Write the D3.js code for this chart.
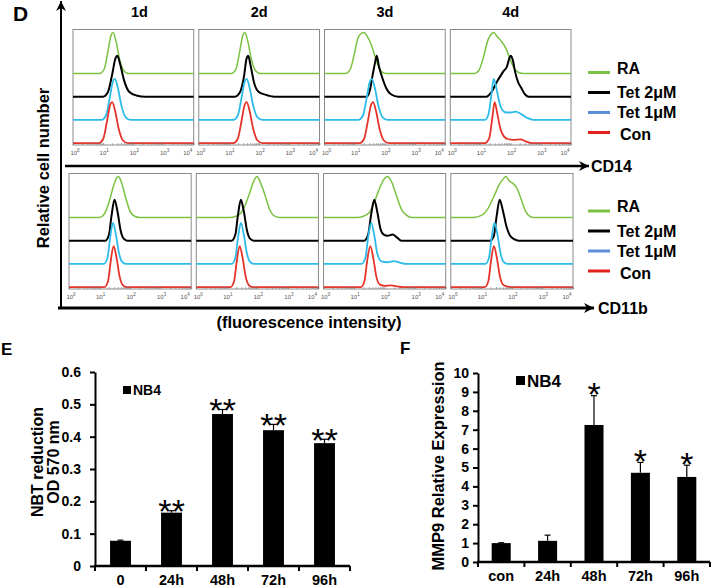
<!DOCTYPE html>
<html lang='en'>
<head>
<meta charset='UTF-8'>
<title>Flow cytometry, NBT and MMP9</title>
<script src='https://cdnjs.cloudflare.com/ajax/libs/d3/7.8.5/d3.min.js'></script>
<style>
  body { margin:0; background:#fff; }
  svg { display:block; font-family:'Liberation Sans', Arial, sans-serif; font-weight:bold; }
</style>
</head>
<body>
<svg id='fig' width='712' height='587'></svg>
<script>
// ---------- data ----------
const days = ['1d', '2d', '3d', '4d']
const treatments = ['RA', 'Tet 2μM', 'Tet 1μM', 'Con']
const markers = ['CD14', 'CD11b']
const decades = [0, 1, 2, 3, 4]

// histogram outlines: [log10 intensity, height / peak], one outline per day
const cd14RA = [
  [[0.88,0],[1.03,0.1],[1.16,0.55],[1.26,0.93],[1.33,1],[1.42,0.8],[1.55,0.33],[1.68,0.07],[1.85,0]],
  [[1.08,0],[1.23,0.1],[1.36,0.55],[1.46,0.93],[1.53,1],[1.62,0.8],[1.75,0.33],[1.88,0.07],[2.05,0]],
  [[0.7,0],[0.85,0.1],[0.98,0.45],[1.1,0.85],[1.22,0.98],[1.31,1],[1.42,0.9],[1.55,0.7],[1.68,0.4],[1.8,0.15],[1.92,0.03],[2.05,0]],
  [[0.8,0],[0.95,0.08],[1.1,0.4],[1.25,0.82],[1.38,0.98],[1.44,1],[1.55,0.9],[1.7,0.78],[1.85,0.6],[1.98,0.35],[2.1,0.15],[2.25,0.03],[2.4,0]]
]
const cd14T2 = [
  [[1.0,0],[1.15,0.1],[1.3,0.55],[1.4,0.92],[1.47,1],[1.56,0.8],[1.7,0.38],[1.86,0.12],[2.1,0.03],[2.4,0]],
  [[1.2,0],[1.36,0.1],[1.5,0.5],[1.58,0.92],[1.64,1],[1.72,0.75],[1.84,0.32],[1.98,0.12],[2.2,0.05],[2.5,0]],
  [[1.4,0],[1.5,0.15],[1.6,0.55],[1.68,0.85],[1.73,1],[1.8,0.75],[1.92,0.45],[2.05,0.2],[2.2,0.06],[2.45,0]],
  [[1.2,0],[1.35,0.1],[1.56,0.38],[1.7,0.55],[1.77,0.63],[1.87,0.72],[1.95,0.92],[2.0,1],[2.07,0.9],[2.15,0.6],[2.25,0.35],[2.35,0.22],[2.45,0.08],[2.6,0]]
]
const cd14T1 = [
  [[0.94,0],[1.09,0.1],[1.22,0.55],[1.32,0.93],[1.39,1],[1.48,0.8],[1.61,0.33],[1.74,0.07],[1.91,0]],
  [[1.14,0],[1.29,0.1],[1.42,0.55],[1.52,0.93],[1.59,1],[1.68,0.8],[1.81,0.33],[1.94,0.07],[2.11,0]],
  [[1.12,0],[1.27,0.1],[1.4,0.55],[1.5,0.93],[1.57,1],[1.66,0.8],[1.79,0.33],[1.92,0.07],[2.09,0]],
  [[1.15,0],[1.27,0.15],[1.36,0.6],[1.44,1],[1.52,0.8],[1.62,0.45],[1.72,0.25],[1.85,0.18],[2.0,0.18],[2.17,0.2],[2.35,0.14],[2.55,0.05],[2.75,0]]
]
const cd14Con = [
  [[0.85,0],[1.0,0.1],[1.13,0.55],[1.23,0.93],[1.3,1],[1.39,0.8],[1.52,0.33],[1.65,0.07],[1.82,0]],
  [[1.14,0],[1.29,0.1],[1.42,0.55],[1.52,0.93],[1.59,1],[1.68,0.8],[1.81,0.33],[1.94,0.07],[2.11,0]],
  [[1.16,0],[1.31,0.1],[1.44,0.55],[1.54,0.93],[1.61,1],[1.7,0.8],[1.83,0.33],[1.96,0.07],[2.13,0]],
  [[1.15,0],[1.29,0.12],[1.39,0.6],[1.47,1],[1.55,0.75],[1.66,0.35],[1.77,0.17],[1.9,0.1],[2.1,0.08],[2.33,0.09],[2.5,0.04],[2.7,0]]
]
const cd11bRA = [
  [[1.0,0],[1.15,0.08],[1.3,0.35],[1.45,0.75],[1.56,0.97],[1.62,1],[1.72,0.85],[1.85,0.5],[2.0,0.15],[2.15,0.03],[2.3,0]],
  [[1.1,0],[1.3,0.03],[1.45,0.1],[1.6,0.3],[1.75,0.6],[1.9,0.92],[1.99,1],[2.1,0.85],[2.25,0.55],[2.4,0.2],[2.55,0.04],[2.75,0]],
  [[1.1,0],[1.3,0.03],[1.5,0.12],[1.65,0.35],[1.8,0.65],[1.95,0.9],[2.1,1],[2.22,0.88],[2.38,0.55],[2.55,0.2],[2.72,0.05],[2.9,0]],
  [[0.75,0],[1.0,0.05],[1.2,0.2],[1.4,0.5],[1.6,0.82],[1.75,0.97],[1.81,1],[1.9,0.9],[2.05,0.82],[2.16,0.72],[2.3,0.45],[2.45,0.15],[2.6,0.02],[2.7,0]]
]
const cd11bT2 = [
  [[1.19,0],[1.31,0.15],[1.39,0.6],[1.49,1],[1.59,0.7],[1.69,0.25],[1.79,0.05],[1.91,0]],
  [[1.16,0],[1.28,0.15],[1.36,0.6],[1.46,1],[1.56,0.7],[1.66,0.25],[1.76,0.05],[1.88,0]],
  [[1.33,0],[1.46,0.15],[1.56,0.65],[1.66,1],[1.76,0.7],[1.86,0.3],[1.97,0.15],[2.1,0.12],[2.26,0.15],[2.4,0.08],[2.55,0]],
  [[1.28,0],[1.41,0.12],[1.5,0.6],[1.6,1],[1.7,0.75],[1.82,0.35],[1.94,0.12],[2.07,0.04],[2.22,0]]
]
const cd11bT1 = [
  [[1.14,0],[1.26,0.15],[1.34,0.6],[1.44,1],[1.54,0.7],[1.64,0.25],[1.74,0.05],[1.86,0]],
  [[1.16,0],[1.28,0.15],[1.36,0.6],[1.46,1],[1.56,0.7],[1.66,0.25],[1.76,0.05],[1.88,0]],
  [[1.24,0],[1.37,0.15],[1.46,0.65],[1.56,1],[1.66,0.7],[1.76,0.25],[1.9,0.06],[2.1,0.04],[2.3,0.07],[2.5,0.03],[2.7,0]],
  [[1.13,0],[1.25,0.15],[1.33,0.6],[1.43,1],[1.53,0.7],[1.63,0.25],[1.73,0.05],[1.85,0]]
]
const cd11bCon = [
  [[1.16,0],[1.28,0.15],[1.36,0.6],[1.46,1],[1.56,0.7],[1.66,0.25],[1.76,0.05],[1.88,0]],
  [[1.12,0],[1.24,0.15],[1.32,0.6],[1.42,1],[1.52,0.7],[1.62,0.25],[1.72,0.05],[1.84,0]],
  [[1.22,0],[1.34,0.15],[1.43,0.65],[1.53,1],[1.63,0.7],[1.73,0.25],[1.85,0.06],[2.0,0.03],[2.2,0.04],[2.4,0.02],[2.6,0]],
  [[1.11,0],[1.23,0.15],[1.31,0.6],[1.41,1],[1.51,0.7],[1.61,0.25],[1.71,0.06],[1.83,0.02],[2.0,0]]
]

// panel E: NBT reduction
const nbtCats = ['0', '24h', '48h', '72h', '96h']
const nbtVals = [0.078, 0.165, 0.47, 0.42, 0.38]
const nbtErr = [0.002, 0.006, 0.014, 0.018, 0.012]
const nbtStars = [0, 2, 2, 2, 2]
const nbtTicks = [0, 0.1, 0.2, 0.3, 0.4, 0.5, 0.6]

// panel F: MMP9 expression
const mmpCats = ['con', '24h', '48h', '72h', '96h']
const mmpVals = [1.0, 1.12, 7.25, 4.72, 4.5]
const mmpErr = [0.02, 0.3, 1.55, 0.55, 0.62]
const mmpStars = [0, 0, 1, 1, 1]
const mmpTicks = [0, 1, 2, 3, 4, 5, 6, 7, 8, 9, 10]

// ---------- drawing ----------
const svg = d3.select('#fig')
const curveColor = ['#7cc242', '#000000', '#2dbbe9', '#e6332a']
const curveWidth = [1.5, 2, 1.8, 1.8]
const legendColor = ['#7cc242', '#000000', '#5b8ed8', '#e3201b']

function arrow(x1, y1, x2, y2, w) {
  svg.append('line').attr('x1', x1).attr('y1', y1).attr('x2', x2).attr('y2', y2)
    .attr('stroke', '#000').attr('stroke-width', w)
  const a = Math.atan2(y2 - y1, x2 - x1)
  const pt = (l, s) => [x2 - l * Math.cos(a) - s * Math.sin(a), y2 - l * Math.sin(a) + s * Math.cos(a)]
  svg.append('path')
    .attr('d', 'M' + [x2, y2] + 'L' + pt(10, 5) + 'L' + pt(7, 0) + 'L' + pt(10, -5) + 'Z')
    .attr('fill', '#000')
}

// panel D frame
svg.append('text').attr('x', 13).attr('y', 21).attr('font-size', 21).text('D')
arrow(61, 309, 61, 1, 2)
arrow(65, 166, 589, 166, 2.6)
arrow(58, 308, 594, 308, 2.8)

svg.append('text').attr('transform', 'translate(49,168) rotate(-90)')
  .attr('text-anchor', 'middle').attr('font-size', 16.5).text('Relative cell number')
svg.append('text').attr('x', 309).attr('y', 328).attr('text-anchor', 'middle')
  .attr('font-size', 16.5).text('(fluorescence intensity)')

const rows = [
  { curves: [cd14RA, cd14T2, cd14T1, cd14Con], top: 29.5, left: 73, right: 571, labelY: 166, legendY: 72.5 },
  { curves: [cd11bRA, cd11bT2, cd11bT1, cd11bCon], top: 173.5, left: 69, right: 573, labelY: 308, legendY: 211 }
]

rows.forEach((row, r) => {
  const col = d3.scaleBand().domain(days).range([row.left, row.right]).paddingInner(0.04)
  const bottom = row.top + 115.5
  const minorTicks = d3.range(1, 5).flatMap(k => d3.range(1, 10).map(m => m * Math.pow(10, k - 1))).concat([1e4])

  days.forEach((day, d) => {
    const x0 = col(day), bw = col.bandwidth()
    const x = d3.scaleLinear().domain([0, 4]).range([x0, x0 + bw])
    const xLog = d3.scaleLog().domain([1, 1e4]).range([x0, x0 + bw])
    const g = svg.append('g')

    g.append('rect').attr('x', x0).attr('y', row.top).attr('width', bw).attr('height', bottom - row.top)
      .attr('fill', 'none').attr('stroke', '#8a8a8a').attr('stroke-width', 1)

    treatments.forEach((t, i) => {
      const base = row.top + 44 + i * 23.2
      const y = d3.scaleLinear().domain([0, 1]).range([base, base - 41])
      const pts = [[x.domain()[0], 0]].concat(row.curves[i][d], [[x.domain()[1], 0]])
      g.append('path')
        .attr('d', d3.line().x(p => x(p[0])).y(p => y(p[1])).curve(d3.curveMonotoneX)(pts))
        .attr('fill', 'none').attr('stroke', curveColor[i]).attr('stroke-width', curveWidth[i])
        .attr('stroke-linejoin', 'round')
    })

    // log axis ticks along the bottom edge
    const ax = g.append('g').attr('transform', `translate(0,${bottom})`)
      .call(d3.axisBottom(xLog).tickValues(minorTicks).tickSize(-2).tickFormat(''))
    ax.select('.domain').remove()
    ax.selectAll('line').attr('stroke', '#777').attr('stroke-width', 0.6)

    decades.forEach((k, j) => {
      const tx = g.append('text').attr('x', x(k) + (j === 0 ? 2 : j === 4 ? -6 : 1)).attr('y', bottom + 10)
        .attr('font-size', 6).attr('font-weight', 'normal').attr('fill', '#555')
        .attr('text-anchor', 'middle').text('10')
      tx.append('tspan').attr('dy', -3).attr('font-size', 4.5).text(k)
    })

    if (r === 0) {
      svg.append('text').attr('x', x0 + bw / 2 + (d === 0 ? 6 : 0)).attr('y', 17)
        .attr('text-anchor', 'middle').attr('font-size', 14.5).text(day)
    }
  })

  // legend
  const ly = d3.scalePoint().domain(treatments).range([row.legendY, row.legendY + 60])
  const textShift = [-4.5, 0, 0, 2]
  treatments.forEach((t, i) => {
    svg.append('line').attr('x1', 588).attr('x2', 610).attr('y1', ly(t)).attr('y2', ly(t))
      .attr('stroke', legendColor[i]).attr('stroke-width', 3)
    svg.append('text').attr('x', i === 3 ? 620 : 617).attr('y', ly(t) + textShift[i])
      .attr('dy', '0.36em').attr('font-size', 16).text(t)
  })

  svg.append('text').attr('x', r === 0 ? 591 : 598).attr('y', row.labelY).attr('dy', '0.36em')
    .attr('font-size', 16).text(markers[r])
})

// ---------- bar charts ----------
function barChart(opt) {
  const x = d3.scaleBand().domain(opt.cats).range([opt.x0, opt.x1]).paddingInner(0.59).paddingOuter(0.295)
  const y = d3.scaleLinear().domain(opt.domain).range([opt.y0, opt.y1])
  const g = svg.append('g')

  const yAxis = g.append('g').attr('transform', `translate(${opt.x0},0)`)
    .call(d3.axisLeft(y).tickValues(opt.ticks).tickSize(5).tickSizeOuter(0).tickPadding(opt.pad)
      .tickFormat(opt.fmt))
  yAxis.selectAll('path, line').attr('stroke', '#000').attr('stroke-width', 2)
  yAxis.selectAll('text').attr('font-size', 14).attr('font-family', null).attr('fill', '#000')

  g.append('line').attr('x1', opt.x0 - 1).attr('x2', opt.x1).attr('y1', opt.y0).attr('y2', opt.y0)
    .attr('stroke', '#000').attr('stroke-width', 2.4)
  d3.range(opt.cats.length + 1).forEach(i => {
    const bx = opt.x0 + i * x.step()
    g.append('line').attr('x1', bx).attr('x2', bx).attr('y1', opt.y0).attr('y2', opt.y0 + 5)
      .attr('stroke', '#000').attr('stroke-width', 2)
  })

  const starSize = 34
  opt.cats.forEach((c, i) => {
    const cx = x(c) + x.bandwidth() / 2
    const top = y(opt.vals[i]), errTop = y(opt.vals[i] + opt.err[i])
    g.append('line').attr('x1', cx).attr('x2', cx).attr('y1', top).attr('y2', errTop)
      .attr('stroke', '#000').attr('stroke-width', 1.2)
    g.append('line').attr('x1', cx - 3).attr('x2', cx + 3).attr('y1', errTop).attr('y2', errTop)
      .attr('stroke', '#000').attr('stroke-width', 1.2)
    g.append('rect').attr('x', x(c)).attr('y', top).attr('width', x.bandwidth())
      .attr('height', opt.y0 - top).attr('fill', '#000')
    const n = opt.stars[i]
    for (let k = 0; k < n; k++) {
      g.append('text').attr('x', cx + (k - (n - 1) / 2) * 13.5)
        .attr('y', errTop - opt.starLift + 0.55 * starSize)
        .attr('text-anchor', 'middle').attr('font-size', starSize).attr('font-weight', 'normal').text('*')
    }
    g.append('text').attr('x', cx).attr('y', opt.y0 + 14).attr('dy', '0.36em')
      .attr('text-anchor', 'middle').attr('font-size', 14.5).text(c)
  })

  g.append('rect').attr('x', opt.legX).attr('y', opt.legY - opt.legSize / 2)
    .attr('width', opt.legSize).attr('height', opt.legSize).attr('fill', '#000')
  g.append('text').attr('x', opt.legX + opt.legSize + 2).attr('y', opt.legY).attr('dy', '0.36em')
    .attr('font-size', opt.legFont).text('NB4')
}

svg.append('text').attr('x', 1).attr('y', 355).attr('font-size', 17).text('E')
barChart({
  cats: nbtCats, vals: nbtVals, err: nbtErr, stars: nbtStars, ticks: nbtTicks,
  domain: [0, 0.6], x0: 95, x1: 350, y0: 566, y1: 372, pad: 9,
  fmt: d => d === 0 ? '0' : d3.format('.1f')(d), starLift: 6,
  legX: 123, legY: 390, legSize: 8, legFont: 14
})
svg.append('text').attr('transform', 'translate(37,462) rotate(-90)').attr('dy', '0.36em')
  .attr('text-anchor', 'middle').attr('font-size', 16).text('NBT reduction')
svg.append('text').attr('transform', 'translate(53,462) rotate(-90)').attr('dy', '0.36em')
  .attr('text-anchor', 'middle').attr('font-size', 16).text('OD 570 nm')

svg.append('text').attr('x', 400).attr('y', 354).attr('font-size', 17).text('F')
barChart({
  cats: mmpCats, vals: mmpVals, err: mmpErr, stars: mmpStars, ticks: mmpTicks,
  domain: [0, 10], x0: 478, x1: 710, y0: 562, y1: 373, pad: 4,
  fmt: d3.format('d'), starLift: 8,
  legX: 516, legY: 380.5, legSize: 9, legFont: 17
})
svg.append('text').attr('transform', 'translate(438,466) rotate(-90)').attr('dy', '0.36em')
  .attr('text-anchor', 'middle').attr('font-size', 16.5).text('MMP9 Relative Expression')
</script>
</body>
</html>
